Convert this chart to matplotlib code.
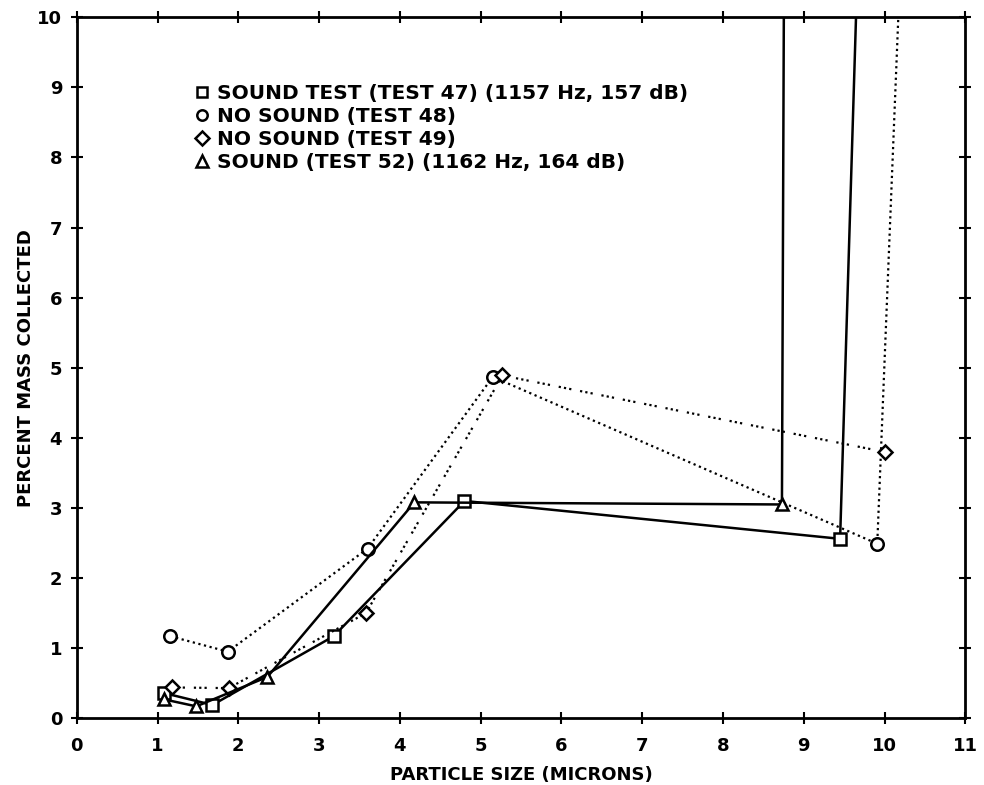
import matplotlib
matplotlib.use("Agg")
import matplotlib.pyplot as plt
from matplotlib.lines import Line2D

plt.rcParams['font.family'] = ['DejaVu Sans']
plt.rcParams['font.weight'] = 'bold'
plt.rcParams['axes.labelweight'] = 'bold'
plt.rcParams['font.size'] = 13

# particle size (microns) vs percent mass collected; the last point of a
# series is off scale (the curve runs out the top of the plot)
sound47_x = [1.08, 1.68, 3.18, 4.80, 9.45, 9.70]
sound47_y = [0.36, 0.19, 1.17, 3.10, 2.56, 12.0]

nosound48_x = [1.16, 1.87, 3.60, 5.15, 9.91, 10.24]
nosound48_y = [1.17, 0.95, 2.42, 4.87, 2.49, 12.0]

nosound49_x = [1.18, 1.88, 3.58, 5.27, 10.00]
nosound49_y = [0.44, 0.43, 1.50, 4.89, 3.80]

sound52_x = [1.08, 1.48, 2.36, 4.18, 8.73, 8.76]
sound52_y = [0.27, 0.17, 0.59, 3.08, 3.05, 12.0]

labels = [
    "SOUND TEST (TEST 47) (1157 Hz, 157 dB)",
    "NO SOUND (TEST 48)",
    "NO SOUND (TEST 49)",
    "SOUND (TEST 52) (1162 Hz, 164 dB)",
]
xticks = list(range(0, 12))
yticks = list(range(0, 11))

fig = plt.figure(figsize=(9.84, 7.85), dpi=100)
ax = fig.add_axes([0.078, 0.085, 0.903, 0.893])

mk = dict(color='black', markerfacecolor='white', markeredgecolor='black',
          markersize=9, markeredgewidth=1.8)

ax.plot(sound47_x, sound47_y, '-', marker='s', lw=1.8, **mk)
ax.plot(nosound48_x, nosound48_y, linestyle=(0, (1, 1.6)), marker='o', lw=1.6, **mk)
ax.plot(nosound49_x, nosound49_y, linestyle=(0, (1, 1.4, 1, 1.4, 1, 4)), marker='D',
        lw=1.6, **{**mk, 'markersize': 7.5})
ax.plot(sound52_x, sound52_y, '-', marker='^', lw=1.8, **mk)

# legend: symbols only, no line samples
handles = [
    Line2D([], [], linestyle='none', marker='s', markersize=7.5,
           markerfacecolor='white', markeredgecolor='black', markeredgewidth=1.8),
    Line2D([], [], linestyle='none', marker='o', markersize=7.5,
           markerfacecolor='white', markeredgecolor='black', markeredgewidth=1.8),
    Line2D([], [], linestyle='none', marker='D', markersize=7,
           markerfacecolor='white', markeredgecolor='black', markeredgewidth=1.8),
    Line2D([], [], linestyle='none', marker='^', markersize=8.5,
           markerfacecolor='white', markeredgecolor='black', markeredgewidth=1.8),
]
ax.legend(handles, labels, loc='upper left', bbox_to_anchor=(0.198, 0.893),
          bbox_transform=fig.transFigure, frameon=False, handlelength=0.7,
          handletextpad=0.4, labelspacing=0.2, borderpad=0, borderaxespad=0,
          prop={'size': 14.5, 'weight': 'bold'})

ax.set_xlim(0, 11)
ax.set_ylim(0, 10)
ax.set_xticks(xticks)
ax.set_yticks(yticks)
ax.tick_params(direction='inout', length=9, width=1.5, top=True, right=True,
               labelsize=13, pad=6)
ax.tick_params(axis='x', pad=9)
for s in ax.spines.values():
    s.set_linewidth(2)

ax.set_xlabel("PARTICLE SIZE (MICRONS)", fontsize=13, labelpad=8)
ax.set_ylabel("PERCENT MASS COLLECTED", fontsize=13)
ax.yaxis.set_label_coords(-0.047, 0.5)

fig.savefig("out.png", dpi=100)
